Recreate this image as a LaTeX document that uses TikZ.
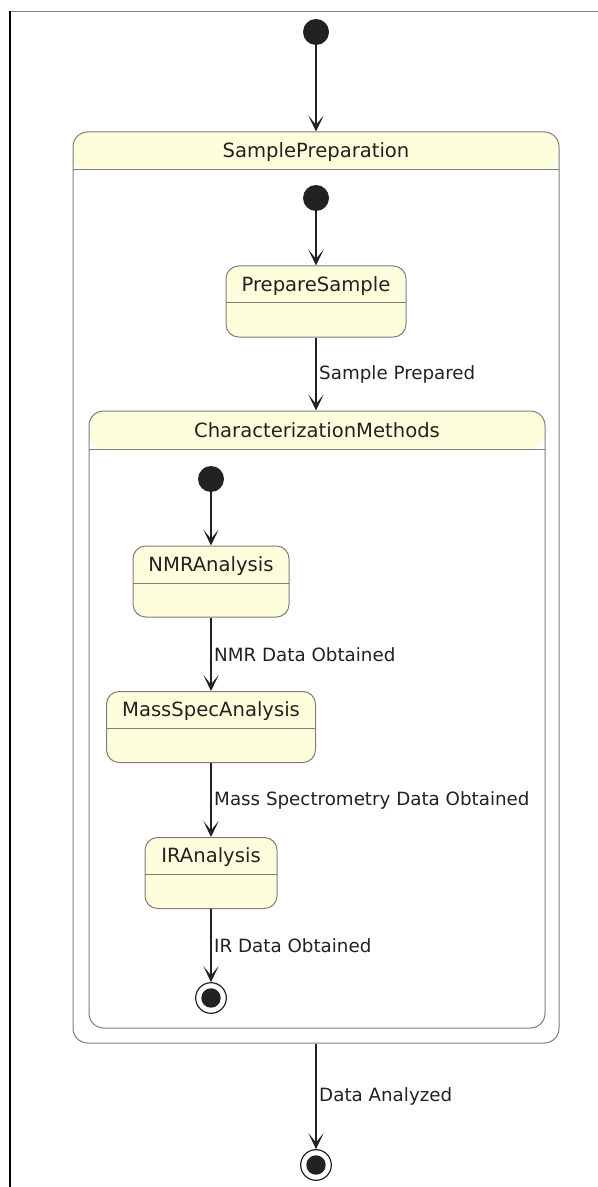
\documentclass[tikz,border=0pt]{standalone}
\usepackage{fontspec}
\setmainfont{DejaVu Sans}
\usetikzlibrary{arrows.meta}

\definecolor{statefill}{RGB}{254,254,221}
\definecolor{linegray}{RGB}{125,125,125}
\definecolor{inkdark}{RGB}{34,34,34}

\tikzset{
  state/.style={draw=linegray, fill=statefill, line width=0.75pt, rounded corners=9.5pt,
    inner xsep=0pt, inner ysep=0pt, text height=19pt, text depth=34.25pt,
    font=\fontsize{14.7pt}{16pt}\selectfont, text=inkdark,
    path picture={\draw[linegray, line width=0.75pt]
      ([yshift=-27.75pt]path picture bounding box.north west) --
      ([yshift=-27.75pt]path picture bounding box.north east);}},
  composite/.style={draw=linegray, fill=white, line width=0.75pt, rounded corners=11pt,
    inner xsep=0pt, inner ysep=0pt, text height=19.5pt,
    font=\fontsize{14.7pt}{16pt}\selectfont, text=inkdark,
    path picture={\fill[statefill]
      (path picture bounding box.north west) rectangle
      ([yshift=-28.5pt]path picture bounding box.north east);
      \draw[linegray, line width=0.75pt]
      ([yshift=-28.5pt]path picture bounding box.north west) --
      ([yshift=-28.5pt]path picture bounding box.north east);}},
  startdot/.style={circle, fill=inkdark, inner sep=0pt, minimum size=19.5pt},
  enddot/.style={circle, draw=inkdark, fill=white, line width=0.9pt, inner sep=0pt,
    minimum size=23pt,
    path picture={\fill[inkdark] (path picture bounding box.center) circle (7.3pt);}},
  trans/.style={draw=inkdark, line width=0.85pt,
    -{Stealth[length=12pt, width=11.5pt, inset=7pt]}},
  translabel/.style={right, inner sep=2pt, text=inkdark,
    font=\fontsize{13.7pt}{15pt}\selectfont}
}

\begin{document}
\begin{tikzpicture}[x=0.75pt,y=0.75pt,yscale=-1,xscale=1]
%page and frame
\fill[white] (0,0) rectangle (598,1187);
\useasboundingbox (0,0) rectangle (598,1187);
%Straight Lines
\draw[gray, line width=1pt] (10,11.5) -- (598,11.5) ;
%Straight Lines
\draw[black, line width=1pt] (10,11.5) -- (10,1187) ;

%Shape: Circle
\node [startdot] (init0) at (316,32) {};
%Shape: Rounded Rect
\node [composite, minimum width=364.5pt, text depth=663.75pt] (samp) at (316,587.5) {SamplePreparation};
%Shape: Circle
\node [startdot] (init1) at (316,198) {};
%Shape: Rounded Rect
\node [state, minimum width=135pt] (prep) at (316,301.5) {PrepareSample};
%Shape: Rounded Rect
\node [composite, minimum width=342pt, text depth=443.25pt] (charm) at (317,719.5) {CharacterizationMethods};

%Shape: Circle
\node [startdot] (init2) at (211,479) {};
%Shape: Rounded Rect
\node [state, minimum width=117pt] (nmr) at (211,581.5) {NMRAnalysis};
%Shape: Rounded Rect
\node [state, minimum width=156.75pt] (mass) at (211,727) {MassSpecAnalysis};
%Shape: Rounded Rect
\node [state, minimum width=99pt] (ir) at (211,873) {IRAnalysis};
%Shape: Circle
\node [enddot] (fin1) at (211,998) {};
%Shape: Circle
\node [enddot] (fin0) at (316,1165) {};

%Straight Lines
\draw [trans] (init0) -- (samp.north) ;
%Straight Lines
\draw [trans] (init1) -- (prep.north) ;
%Straight Lines
\draw [trans] (prep.south) -- node [translabel] (lprep) {Sample Prepared} (prep.south |- charm.north) ;
%Straight Lines
\draw [trans] (init2) -- (nmr.north) ;
%Straight Lines
\draw [trans] (nmr.south) -- node [translabel] (lnmr) {NMR Data Obtained} (mass.north) ;
%Straight Lines
\draw [trans] (mass.south) -- node [translabel] (lmass) {Mass Spectrometry Data Obtained} (ir.north) ;
%Straight Lines
\draw [trans] (ir.south) -- node [translabel] (lir) {IR Data Obtained} (fin1) ;
%Straight Lines
\draw [trans] (samp.south) -- node [translabel] (ldone) {Data Analyzed} (fin0) ;
\end{tikzpicture}
\end{document}
